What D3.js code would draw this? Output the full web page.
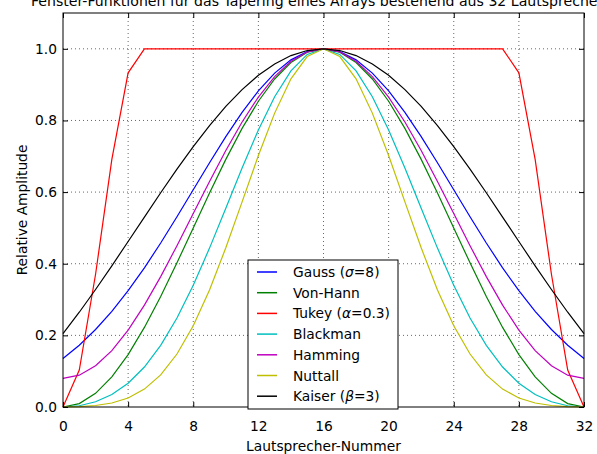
<!DOCTYPE html>
<html>
<head>
<meta charset="utf-8">
<script src="https://cdn.jsdelivr.net/npm/d3@7"></script>
<style>
  body { margin: 0; background: #fff; }
  text { font-family: "DejaVu Sans", sans-serif; }
</style>
</head>
<body>
<div class="root"></div>
<script>
// Lautsprecher 0..32
var speakers = d3.range(0, 33);

var gauss = [0.1353, 0.1724, 0.2163, 0.2671, 0.3247, 0.3886, 0.4578, 0.5311, 0.6065, 0.6819, 0.7548, 0.8226, 0.8825, 0.9321, 0.9692, 0.9922, 1.0,
             0.9922, 0.9692, 0.9321, 0.8825, 0.8226, 0.7548, 0.6819, 0.6065, 0.5311, 0.4578, 0.3886, 0.3247, 0.2671, 0.2163, 0.1724, 0.1353];
var hann = [0.0, 0.0096, 0.0381, 0.0843, 0.1464, 0.2222, 0.3087, 0.4025, 0.5, 0.5975, 0.6913, 0.7778, 0.8536, 0.9157, 0.9619, 0.9904, 1.0,
            0.9904, 0.9619, 0.9157, 0.8536, 0.7778, 0.6913, 0.5975, 0.5, 0.4025, 0.3087, 0.2222, 0.1464, 0.0843, 0.0381, 0.0096, 0.0];
var tukey = [0.0, 0.1033, 0.3706, 0.6913, 0.9330, 1, 1, 1, 1, 1, 1, 1, 1, 1, 1, 1, 1,
             1, 1, 1, 1, 1, 1, 1, 1, 1, 1, 1, 0.9330, 0.6913, 0.3706, 0.1033, 0.0];
var blackman = [0.0, 0.0035, 0.0146, 0.0349, 0.0664, 0.1116, 0.1721, 0.2485, 0.34, 0.4436, 0.5548, 0.6672, 0.7736, 0.8664, 0.9385, 0.9843, 1.0,
                0.9843, 0.9385, 0.8664, 0.7736, 0.6672, 0.5548, 0.4436, 0.34, 0.2485, 0.1721, 0.1116, 0.0664, 0.0349, 0.0146, 0.0035, 0.0];
var hamming = [0.08, 0.0888, 0.1150, 0.1575, 0.2147, 0.2844, 0.3640, 0.4503, 0.54, 0.6297, 0.7160, 0.7956, 0.8653, 0.9225, 0.9650, 0.9912, 1.0,
               0.9912, 0.9650, 0.9225, 0.8653, 0.7956, 0.7160, 0.6297, 0.54, 0.4503, 0.3640, 0.2844, 0.2147, 0.1575, 0.1150, 0.0888, 0.08];
var nuttall = [0.0004, 0.0012, 0.0042, 0.0112, 0.0252, 0.0500, 0.0896, 0.1479, 0.2270, 0.3269, 0.4444, 0.5726, 0.7020, 0.8205, 0.9162, 0.9784, 1.0,
               0.9784, 0.9162, 0.8205, 0.7020, 0.5726, 0.4444, 0.3269, 0.2270, 0.1479, 0.0896, 0.0500, 0.0252, 0.0112, 0.0042, 0.0012, 0.0004];
var kaiser = [0.2049, 0.2646, 0.3280, 0.3942, 0.4620, 0.5303, 0.5981, 0.6640, 0.7269, 0.7856, 0.8391, 0.8862, 0.9261, 0.9579, 0.9811, 0.9952, 1.0,
              0.9952, 0.9811, 0.9579, 0.9261, 0.8862, 0.8391, 0.7856, 0.7269, 0.6640, 0.5981, 0.5303, 0.4620, 0.3942, 0.3280, 0.2646, 0.2049];

var xTicks = [0, 4, 8, 12, 16, 20, 24, 28, 32];
var yTicks = [0.0, 0.2, 0.4, 0.6, 0.8, 1.0];

// name, greek symbol, rest, values, colour
var series = [
  {pre: 'Gauss (', sym: 'σ', post: '=8)', vals: gauss, color: '#0000ff'},
  {pre: 'Von-Hann', sym: '', post: '', vals: hann, color: '#008000'},
  {pre: 'Tukey (', sym: 'α', post: '=0.3)', vals: tukey, color: '#ff0000'},
  {pre: 'Blackman', sym: '', post: '', vals: blackman, color: '#00bfbf'},
  {pre: 'Hamming', sym: '', post: '', vals: hamming, color: '#bf00bf'},
  {pre: 'Nuttall', sym: '', post: '', vals: nuttall, color: '#bfbf00'},
  {pre: 'Kaiser (', sym: 'β', post: '=3)', vals: kaiser, color: '#000000'}
];

function drawChart() {
  var W = 597, H = 454;
  var m = {left: 63, right: 13, top: 13, bottom: 47};
  var fs = 13.8;

  var svg = d3.select('.root').append('svg')
    .attr('width', W)
    .attr('height', H);

  var x = d3.scaleLinear().domain([0, 32]).range([m.left, W - m.right]);
  var y = d3.scaleLinear().domain([0, 1.1]).range([H - m.bottom, m.top]);

  // grid
  var grid = svg.append('g')
    .attr('stroke', '#000')
    .attr('stroke-width', 0.6)
    .attr('stroke-dasharray', '1,3');
  grid.selectAll('.gx').data(xTicks.slice(1, -1)).enter().append('line')
    .attr('x1', function(d) { return x(d); })
    .attr('x2', function(d) { return x(d); })
    .attr('y1', y(1.1)).attr('y2', y(0));
  grid.selectAll('.gy').data(yTicks.slice(1)).enter().append('line')
    .attr('y1', function(d) { return y(d); })
    .attr('y2', function(d) { return y(d); })
    .attr('x1', x(0)).attr('x2', x(32));

  // curves
  var line = d3.line()
    .x(function(d, i) { return x(speakers[i]); })
    .y(function(d) { return y(d); });

  svg.append('g')
    .selectAll('path')
      .data(series)
      .enter().append('path')
        .attr('d', function(d) { return line(d.vals); })
        .attr('fill', 'none')
        .attr('stroke', function(d) { return d.color; })
        .attr('stroke-width', 1.2);

  // axes, ticks inward on all sides
  var tl = 5;
  var bottom = svg.append('g')
    .attr('transform', 'translate(0,' + y(0) + ')')
    .call(d3.axisBottom(x).tickValues(xTicks).tickSize(-tl).tickPadding(14).tickFormat(d3.format('d')));
  var top = svg.append('g')
    .attr('transform', 'translate(0,' + y(1.1) + ')')
    .call(d3.axisTop(x).tickValues(xTicks).tickSize(-tl).tickFormat(''));
  var left = svg.append('g')
    .attr('transform', 'translate(' + x(0) + ',0)')
    .call(d3.axisLeft(y).tickValues(yTicks).tickSize(-tl).tickPadding(6).tickFormat(d3.format('.1f')));
  var right = svg.append('g')
    .attr('transform', 'translate(' + x(32) + ',0)')
    .call(d3.axisRight(y).tickValues(yTicks).tickSize(-tl).tickFormat(''));

  [bottom, top, left, right].forEach(function(g) {
    g.select('.domain').remove();
    g.selectAll('.tick line').attr('stroke', '#000');
    g.selectAll('.tick text')
      .attr('font-family', '"DejaVu Sans", sans-serif')
      .attr('font-size', fs)
      .attr('fill', '#000');
  });

  svg.append('rect')
    .attr('x', x(0)).attr('y', y(1.1))
    .attr('width', x(32) - x(0)).attr('height', y(0) - y(1.1))
    .attr('fill', 'none').attr('stroke', '#000').attr('stroke-width', 1);

  // labels (title runs past the right edge, as in the original)
  svg.append('text')
    .attr('x', 31).attr('y', 6)
    .attr('font-size', 14.1)
    .text('Fenster-Funktionen für das Tapering eines Arrays bestehend aus 32 Lautsprechern');

  svg.append('text')
    .attr('x', (x(0) + x(32)) / 2).attr('y', 451)
    .attr('text-anchor', 'middle')
    .attr('font-size', fs)
    .text('Lautsprecher-Nummer');

  svg.append('text')
    .attr('transform', 'translate(27,' + (y(0) + y(1.1)) / 2 + ') rotate(-90)')
    .attr('text-anchor', 'middle')
    .attr('font-size', fs)
    .text('Relative Amplitude');

  // legend
  var lg = svg.append('g').attr('transform', 'translate(248,260)');
  lg.append('rect')
    .attr('width', 150).attr('height', 149)
    .attr('fill', '#fff').attr('stroke', '#000').attr('stroke-width', 1);

  var rows = lg.selectAll('.row')
    .data(series)
    .enter().append('g')
      .attr('transform', function(d, i) { return 'translate(0,' + (12 + i * 20.7) + ')'; });

  rows.append('line')
    .attr('x1', 9).attr('x2', 29)
    .attr('stroke', function(d) { return d.color; })
    .attr('stroke-width', 1.5);

  var lt = rows.append('text')
    .attr('x', 45).attr('y', 5)
    .attr('font-size', fs);
  lt.append('tspan').text(function(d) { return d.pre; });
  lt.append('tspan').attr('font-style', 'italic').text(function(d) { return d.sym; });
  lt.append('tspan').text(function(d) { return d.post; });
}

window.onload = function() {
  drawChart();
};
</script>
</body>
</html>
